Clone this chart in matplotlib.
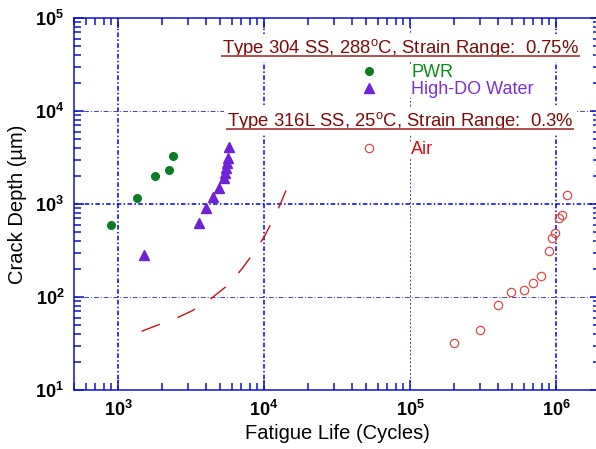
import numpy as np
import matplotlib
matplotlib.use('Agg')
import matplotlib.pyplot as plt
from matplotlib.ticker import LogLocator, FuncFormatter, NullFormatter
from matplotlib.lines import Line2D

plt.rcParams['font.family'] = ['Liberation Sans', 'DejaVu Sans']
plt.rcParams['mathtext.fontset'] = 'custom'
plt.rcParams['mathtext.rm'] = 'Liberation Sans'
plt.rcParams['mathtext.bf'] = 'Liberation Sans:bold'
plt.rcParams['mathtext.it'] = 'Liberation Sans:italic'

# Type 304 SS, 288 C, strain range 0.75 %
pwr_life = [896, 1350, 1800, 2230, 2380]
pwr_depth = [594, 1170, 2010, 2340, 3280]

hdo_life = [1500, 3570, 4010, 4460, 4900, 5320, 5410, 5500, 5560, 5640, 5730]
hdo_depth = [283, 629, 900, 1180, 1480, 1890, 2140, 2420, 2740, 3100, 4130]

# Type 316L SS, 25 C, strain range 0.3 %
air_life = [2.0e5, 3.0e5, 4.0e5, 4.9e5, 6.0e5, 7.0e5, 7.9e5, 8.9e5, 9.4e5, 9.9e5, 1.04e6, 1.1e6, 1.19e6]
air_depth = [31.8, 44.2, 82, 113, 120, 142, 167, 315, 434, 488, 701, 762, 1260]

# dashed curve
curve_life = [1453, 1900, 2523, 3228, 4111, 5558, 7035, 8451, 10000, 11590, 12880, 14450]
curve_depth = [42.8, 50.4, 59.4, 71.3, 89.9, 131, 199, 295, 439, 684, 982, 1513]

title_304 = r'Type 304 SS, 288$^{\mathrm{o}}$C, Strain Range:  0.75%'
title_316 = r'Type 316L SS, 25$^{\mathrm{o}}$C, Strain Range:  0.3%'

green = '#0b7d22'
purple = '#6f22d8'
airred = '#e04848'
blue = '#1010d0'

fig = plt.figure(figsize=(5.96, 4.49), dpi=100)
ax = fig.add_axes([74/596, 59/449, 526/596, 372/449])
ax.set_xscale('log')
ax.set_yscale('log')
ax.set_xlim(500, 2e6)
ax.set_ylim(10, 1e5)

# grid lines at decades
for v in [1e3, 1e4, 1e6]:
    ax.axvline(v, color='#0000e0', lw=1.1, ls=(0, (3, 1.5, 1, 1.5)), zorder=1)
ax.axvline(1e5, color='#4040d8', lw=0.7, ls=(0, (2, 2)), zorder=1)
ax.axhline(1e3, color='#0000e0', lw=1.1, ls=(0, (3, 1.5, 1, 1.5)), zorder=1)
for v in [1e2, 1e4]:
    ax.axhline(v, color='#4040d8', lw=0.7, ls=(0, (5, 2, 1, 2)), zorder=1)

ax.plot(curve_life, curve_depth, color='#cc1010', lw=1.0, ls=(0, (14, 13.5)), zorder=2)
ax.plot(pwr_life, pwr_depth, 'o', color=green, ms=5.5, mec=green, zorder=3)
ax.plot(hdo_life, hdo_depth, '^', color=purple, ms=7.5, mec=purple, zorder=3)
ax.plot(air_life, air_depth, 'o', mfc='none', mec=airred, mew=0.9, ms=6, zorder=3)

for sp in ax.spines.values():
    sp.set_color(blue)
    sp.set_linewidth(1.1)

ax.xaxis.set_major_locator(LogLocator(base=10, numticks=10))
ax.yaxis.set_major_locator(LogLocator(base=10, numticks=10))
ax.xaxis.set_minor_locator(LogLocator(base=10, subs=np.arange(2, 10), numticks=20))
ax.yaxis.set_minor_locator(LogLocator(base=10, subs=np.arange(2, 10), numticks=20))
fmt = FuncFormatter(lambda v, p: r'$\mathbf{10^{%d}}$' % round(np.log10(v)))
ax.xaxis.set_major_formatter(fmt)
ax.yaxis.set_major_formatter(fmt)
ax.xaxis.set_minor_formatter(NullFormatter())
ax.yaxis.set_minor_formatter(NullFormatter())
ax.tick_params(which='both', direction='in', top=True, right=True, color=blue, width=1.1)
ax.tick_params(which='major', length=7, labelsize=13, pad=7)
ax.tick_params(which='minor', length=5)

ax.set_xlabel('Fatigue Life (Cycles)', fontsize=14.5, labelpad=3)
ax.set_ylabel('Crack Depth (µm)', fontsize=14.5, labelpad=6)

pos1 = ((222 - 74) / 526, (390 - 53) / 372)
pos2 = ((227 - 74) / 526, (390 - 126) / 372)
t1 = ax.text(*pos1, title_304, transform=ax.transAxes,
             fontsize=13.3, color='#800a0a', va='baseline', ha='left', zorder=5,
             bbox=dict(fc='white', ec='none', pad=2))
t2 = ax.text(*pos2, title_316, transform=ax.transAxes,
             fontsize=13.3, color='#800a0a', va='baseline', ha='left', zorder=5,
             bbox=dict(fc='white', ec='none', pad=2))

fs_px = 13 * 100 / 72
h_pwr = Line2D([], [], ls='none', marker='o', color=green, ms=5.5)
h_hdo = Line2D([], [], ls='none', marker='^', color=purple, ms=7.5)
h_air = Line2D([], [], ls='none', marker='o', mfc='none', mec=airred, mew=0.9, ms=6)
leg_x = (369 - fs_px / 2 - 74) / 526
leg1 = ax.legend([h_pwr, h_hdo], ['PWR', 'High-DO Water'], loc='center left',
                 bbox_to_anchor=(leg_x, (390 - 81) / 372), fontsize=13,
                 labelcolor=['#0a8a1a', '#7a30d8'], handlelength=1.0,
                 handletextpad=(411 - 369 - fs_px / 2) / fs_px, labelspacing=0.0,
                 borderpad=0, borderaxespad=0, frameon=True, fancybox=False,
                 facecolor='white', edgecolor='none', framealpha=1)
leg1.set_zorder(5)
ax.add_artist(leg1)
leg2 = ax.legend([h_air], ['Air'], loc='center left',
                 bbox_to_anchor=(leg_x, (390 - 150) / 372), fontsize=13,
                 labelcolor=['#d01010'], handlelength=1.0,
                 handletextpad=(411 - 369 - fs_px / 2) / fs_px,
                 borderpad=0, borderaxespad=0, frameon=True, fancybox=False,
                 facecolor='white', edgecolor='none', framealpha=1)
leg2.set_zorder(5)

# underline the two headings just below their baselines
fig.canvas.draw()
r = fig.canvas.get_renderer()
for t, pos in ((t1, pos1), (t2, pos2)):
    bb = t.get_window_extent(r)
    yb = ax.transAxes.transform(pos)[1] - 2.5
    fig.add_artist(Line2D([bb.x0, bb.x1], [yb, yb], transform=None,
                          color='#b05050', lw=1.4, zorder=6))

fig.savefig('out.png', dpi=100)
